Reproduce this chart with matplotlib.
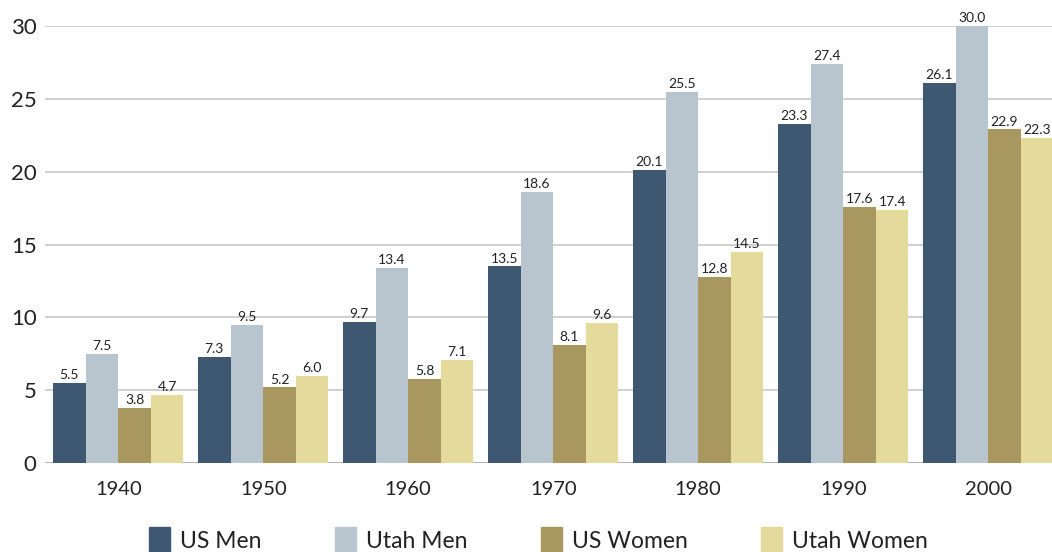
import matplotlib
matplotlib.use("Agg")
import matplotlib.pyplot as plt
import numpy as np

years = ["1940", "1950", "1960", "1970", "1980", "1990", "2000"]
series_names = ["US Men", "Utah Men", "US Women", "Utah Women"]
us_men = [5.5, 7.3, 9.7, 13.5, 20.1, 23.3, 26.1]
utah_men = [7.5, 9.5, 13.4, 18.6, 25.5, 27.4, 30.0]
us_women = [3.8, 5.2, 5.8, 8.1, 12.8, 17.6, 22.9]
utah_women = [4.7, 6.0, 7.1, 9.6, 14.5, 17.4, 22.3]
yticks = [0, 5, 10, 15, 20, 25, 30]

colors = ["#3d5870", "#b8c5ce", "#a8985f", "#e4da9b"]

plt.rcParams['font.family'] = ['Lato', 'DejaVu Sans']

fig = plt.figure(figsize=(10.52, 5.52), dpi=100)
ax = fig.add_axes([0.0428, 0.161, 0.9572, 0.792])

x = np.arange(len(years))
w = 0.225
data = [us_men, utah_men, us_women, utah_women]
for i, (vals, c, name) in enumerate(zip(data, colors, series_names)):
    pos = x + (i - 1.5) * w
    ax.bar(pos, vals, width=w, color=c, label=name, zorder=3, linewidth=0)
    for p, v in zip(pos, vals):
        ax.text(p, v + 0.12, f"{v:.1f}", ha="center", va="bottom",
                fontsize=10, color="#222222", zorder=4, clip_on=False)

ax.set_xlim(-0.505, 6.44)
ax.set_ylim(0, 30)
ax.set_yticks(yticks)
ax.set_yticklabels([str(t) for t in yticks], fontsize=16, color="#222222")
ax.set_xticks(x)
ax.set_xticklabels(years, fontsize=14.5, color="#222222")
ax.tick_params(axis="both", length=0)
ax.tick_params(axis="y", pad=6)
ax.tick_params(axis="x", pad=13)
ax.grid(axis="y", color="#c8c8c8", linewidth=1.2, zorder=0)
for s in ax.spines.values():
    s.set_visible(False)
ax.axhline(0, color="#b0b0b0", linewidth=1.2, zorder=2)

handles = [plt.Rectangle((0, 0), 1, 1, color=c) for c in colors]
fig.legend(handles, series_names, loc="center", ncol=4, frameon=False,
           bbox_to_anchor=(0.512, 0.022), fontsize=16.5, handlelength=0.9,
           handleheight=1.3, handletextpad=0.45, columnspacing=3.2,
           labelcolor="#222222", borderpad=0)

fig.savefig("out.png", dpi=100)
